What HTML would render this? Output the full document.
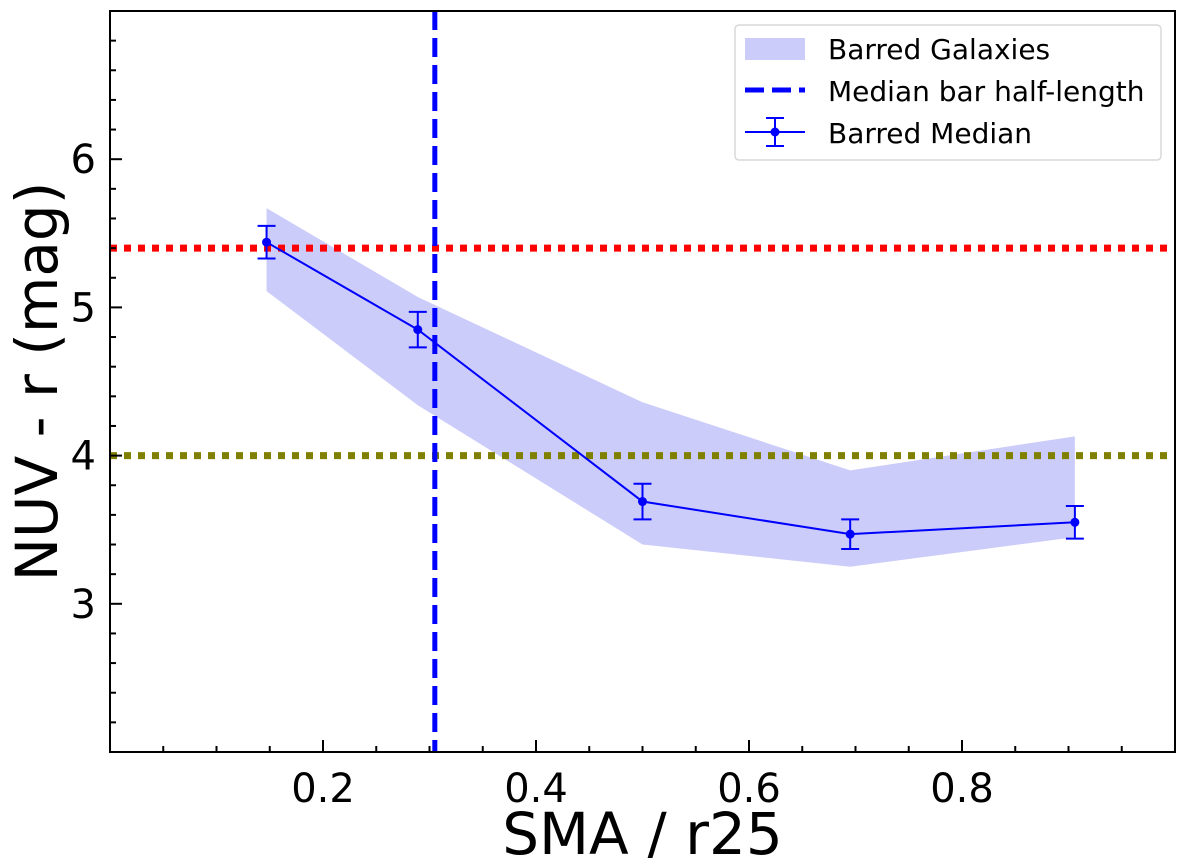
<!DOCTYPE html>
<html><head><meta charset="utf-8"><style>
body{margin:0;background:#fff;}
svg{display:block;font-family:"DejaVu Sans","Liberation Sans",sans-serif;}
</style></head><body>
<svg id="chart" width="1200" height="858"></svg>
<script>
const xVals=[0.147,0.289,0.5,0.695,0.906];
const yMed=[5.44,4.85,3.69,3.47,3.55];
const yErr=[0.11,0.12,0.12,0.1,0.11];
const bandUpper=[5.67,5.07,4.36,3.90,4.13];
const bandLower=[5.11,4.34,3.40,3.25,3.45];
const barHalfLength=0.305;
const redLevel=5.4;
const oliveLevel=4.0;
const xTicks=[0.2,0.4,0.6,0.8];
const yTicks=[3,4,5,6];
const L=110,R=1175,T=11,B=752;
const X=v=>L+(v-0)/(1.0-0)*(R-L);
const Y=v=>B-(v-2)/(7-2)*(B-T);
const NS="http://www.w3.org/2000/svg";
const svg=document.getElementById('chart');
function mk(tag,attrs,parent){const e=document.createElementNS(NS,tag);for(const k in attrs)e.setAttribute(k,attrs[k]);(parent||svg).appendChild(e);return e;}
let pts=xVals.map((x,i)=>X(x)+','+Y(bandUpper[i])).concat(xVals.map((x,i)=>X(x)+','+Y(bandLower[i])).reverse());
let band=mk('polygon',{points:pts.join(' '),fill:'#ccccfa'});


let red=mk('line',{x1:L,x2:R,y1:Y(redLevel),y2:Y(redLevel),stroke:'#ff0000','stroke-width':7,'stroke-dasharray':'7 7'});


let ol=mk('line',{x1:L,x2:R,y1:Y(oliveLevel),y2:Y(oliveLevel),stroke:'#808000','stroke-width':7,'stroke-dasharray':'7 7'});


let vl=mk('line',{x1:X(barHalfLength),x2:X(barHalfLength),y1:T,y2:B,stroke:'#0000ff','stroke-width':5,'stroke-dasharray':'19 8'});


let ml=mk('polyline',{points:xVals.map((x,i)=>X(x)+','+Y(yMed[i])).join(' '),fill:'none',stroke:'#0000ff','stroke-width':2});


xVals.forEach((x,i)=>{
 const g=mk('g',{stroke:'#0000ff','stroke-width':2});
 
 
 const cx=X(x),y1=Y(yMed[i]+yErr[i]),y2=Y(yMed[i]-yErr[i]);
 mk('line',{x1:cx,x2:cx,y1:y1,y2:y2},g);
 mk('line',{x1:cx-9,x2:cx+9,y1:y1,y2:y1},g);
 mk('line',{x1:cx-9,x2:cx+9,y1:y2,y2:y2},g);
 mk('circle',{cx:cx,cy:Y(yMed[i]),r:4.5,fill:'#0000ff',stroke:'none'},g);
});
let fr=mk('rect',{x:L,y:T,width:R-L,height:B-T,fill:'none',stroke:'#000','stroke-width':2});


for(let v=0.05;v<1.0;v+=0.05){const big=xTicks.some(t=>Math.abs(t-v)<1e-6);mk('line',{x1:X(v),x2:X(v),y1:B,y2:B-(big?12:6),stroke:'#000','stroke-width':2});}
for(let v=2.2;v<7;v+=0.2){const big=yTicks.some(t=>Math.abs(t-v)<1e-6);mk('line',{x1:L,x2:L+(big?12:6),y1:Y(v),y2:Y(v),stroke:'#000','stroke-width':2});}
xTicks.forEach(t=>{const e=mk('text',{x:X(t),y:B+50,'text-anchor':'middle','font-size':40});e.textContent=t.toFixed(1);

});
yTicks.forEach(t=>{const e=mk('text',{x:L-14,y:Y(t)+14,'text-anchor':'end','font-size':40});e.textContent=t;

});
let xt=mk('text',{x:(L+R)/2,y:854,'text-anchor':'middle','font-size':58});xt.textContent='SMA / r25';


let yt=mk('text',{x:0,y:0,'text-anchor':'middle','font-size':58,transform:'translate(57,'+((T+B)/2)+') rotate(-90)'});yt.textContent='NUV - r (mag)';


const lg=mk('g',{});


mk('rect',{x:735,y:25,width:426,height:135,rx:4,fill:'#fff',stroke:'#d8d8d8','stroke-width':1.5},lg);
mk('rect',{x:745,y:38,width:60,height:22,fill:'#ccccfa'},lg);
mk('line',{x1:745,x2:805,y1:90,y2:90,stroke:'#0000ff','stroke-width':5,'stroke-dasharray':'19 8'},lg);
mk('line',{x1:745,x2:805,y1:132,y2:132,stroke:'#0000ff','stroke-width':2},lg);
mk('line',{x1:775,x2:775,y1:118,y2:146,stroke:'#0000ff','stroke-width':2},lg);
mk('line',{x1:766,x2:784,y1:118,y2:118,stroke:'#0000ff','stroke-width':2},lg);
mk('line',{x1:766,x2:784,y1:146,y2:146,stroke:'#0000ff','stroke-width':2},lg);
mk('circle',{cx:775,cy:132,r:4.5,fill:'#0000ff'},lg);
[['Barred Galaxies',59],['Median bar half-length',101],['Barred Median',143]].forEach(([s,y])=>{const e=mk('text',{x:828,y:y,'font-size':28},lg);e.textContent=s;

});
</script>
</body></html>
